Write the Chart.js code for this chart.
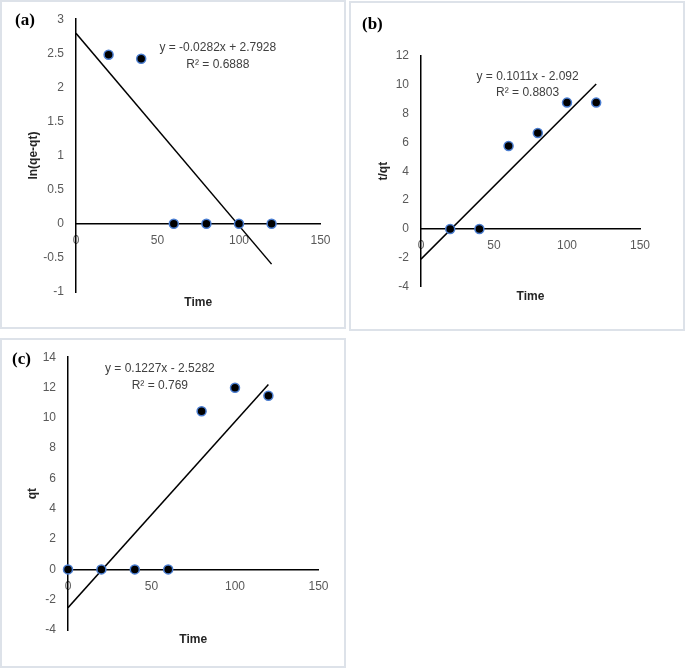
<!DOCTYPE html>
<html>
<head>
<meta charset="utf-8">
<script src="https://cdn.jsdelivr.net/npm/chart.js@4/dist/chart.umd.min.js"></script>
<style>
  body { margin: 0; background: #fff; }
  #wrap { position: relative; width: 685px; height: 669px; overflow: hidden; }
  .frame { position: absolute; box-sizing: border-box; border: 2px solid #dde2e9; }
  canvas { position: absolute; }
  .tag { position: absolute; font: bold 17px "Liberation Serif", "Times New Roman", serif; line-height: 17px; color: #000; }
</style>
</head>
<body>
<div id="wrap">
  <div class="frame" style="left:0;top:0;width:346px;height:329px"></div>
  <div class="frame" style="left:349px;top:1px;width:336px;height:330px"></div>
  <div class="frame" style="left:0;top:338px;width:346px;height:330px"></div>
  <canvas id="chartA" width="346" height="329" style="left:0;top:0"></canvas>
  <canvas id="chartB" width="336" height="330" style="left:349px;top:0"></canvas>
  <canvas id="chartC" width="345" height="331" style="left:0;top:338px"></canvas>
  <div class="tag" style="left:15px;top:11px">(a)</div>
  <div class="tag" style="left:362px;top:15px">(b)</div>
  <div class="tag" style="left:12px;top:350px">(c)</div>
</div>
<script>
// (a) pseudo-first-order
const timeA = [20, 40, 60, 80, 100, 120];
const lnA = [2.48, 2.42, 0, 0, 0, 0];
// (b) pseudo-second-order
const timeB = [20, 40, 60, 80, 100, 120];
const tqB = [0, 0, 5.75, 6.65, 8.75, 8.75];
// (c) qt vs time
const timeC = [0, 20, 40, 60, 80, 100, 120];
const qtC = [0, 0, 0, 0, 10.43, 11.98, 11.46];

// trend line end points (x = 0 and x = 120)
const trendX = [0, 120];
const trendA = [2.7928, -0.5912];
const trendB = [-2.092, 10.04];
const trendC = [-2.5282, 12.196];

const eqA = ['y = -0.0282x + 2.7928', 'R\u00B2 = 0.6888'];
const eqB = ['y = 0.1011x - 2.092', 'R\u00B2 = 0.8803'];
const eqC = ['y = 0.1227x - 2.5282', 'R\u00B2 = 0.769'];

const tickColor = '#595959';
const baseFont = '"Liberation Sans", Arial, sans-serif';

function toPoints(xs, ys) {
    return xs.map((x, i) => ({ x: x, y: ys[i] }));
}

function makeChart(id, cfg) {
    const eqPlugin = {
        id: 'eqText',
        afterDatasetsDraw(chart) {
            const ctx = chart.ctx;
            const x = chart.scales.x.getPixelForValue(cfg.eqPos[0]);
            ctx.save();
            ctx.font = '12px ' + baseFont;
            ctx.fillStyle = '#404040';
            ctx.textAlign = 'center';
            ctx.textBaseline = 'middle';
            cfg.eq.forEach((line, i) => {
                ctx.fillText(line, x, chart.scales.y.getPixelForValue(cfg.eqPos[1][i]));
            });
            ctx.restore();
        }
    };

    return new Chart(document.getElementById(id), {
        type: 'scatter',
        data: {
            datasets: [{
                data: toPoints(cfg.xs, cfg.ys),
                backgroundColor: '#000',
                borderColor: '#4a7dd0',
                borderWidth: 1.5,
                pointRadius: 4.5,
                clip: false,
                order: 0
            }, {
                data: toPoints(trendX, cfg.trend),
                showLine: true,
                borderColor: '#000',
                borderWidth: 1.5,
                pointRadius: 0,
                order: 1
            }]
        },
        options: {
            responsive: false,
            animation: false,
            devicePixelRatio: 1,
            layout: { padding: cfg.pad },
            plugins: {
                legend: { display: false },
                tooltip: { enabled: false },
                title: {
                    display: true,
                    text: 'Time',
                    position: 'bottom',
                    fullSize: false,
                    color: '#262626',
                    font: { family: baseFont, size: 12, weight: 'bold' },
                    padding: cfg.titlePad
                }
            },
            scales: {
                x: {
                    type: 'linear',
                    position: { y: 0 },
                    min: 0,
                    max: 150,
                    grid: { display: false, drawTicks: false },
                    border: { display: true, color: '#000', width: 1.5 },
                    ticks: {
                        stepSize: 50,
                        color: tickColor,
                        padding: 10,
                        font: { family: baseFont, size: 12 }
                    },
                    afterFit(scale) { scale.height = 0; }
                },
                y: {
                    type: 'linear',
                    position: 'left',
                    min: cfg.yMin,
                    max: cfg.yMax,
                    grid: { display: false, drawTicks: false },
                    border: { display: true, color: '#000', width: 1.5 },
                    ticks: {
                        stepSize: cfg.yStep,
                        color: tickColor,
                        padding: 12,
                        font: { family: baseFont, size: 12 },
                        callback: v => String(Math.round(v * 10) / 10)
                    },
                    title: {
                        display: true,
                        text: cfg.yTitle,
                        color: '#262626',
                        padding: 0,
                        font: { family: baseFont, size: 12, weight: 'bold' }
                    },
                    afterFit(scale) { scale.width = cfg.yWidth; }
                }
            }
        },
        plugins: [eqPlugin]
    });
}

makeChart('chartA', {
    xs: timeA, ys: lnA, trend: trendA,
    yMin: -1, yMax: 3, yStep: 0.5, yTitle: 'ln(qe-qt)',
    eq: eqA, eqPos: [87, [2.575, 2.34]],
    pad: { left: 26, right: 25.5, top: 17, bottom: 0 },
    yWidth: 50,
    titlePad: { top: 3.8, bottom: 18.8 }
});

makeChart('chartB', {
    xs: timeB, ys: tqB, trend: trendB,
    yMin: -4, yMax: 12, yStep: 2, yTitle: 't/qt',
    eq: eqB, eqPos: [73, [10.57, 9.42]],
    pad: { left: 27, right: 45, top: 55.7, bottom: 0 },
    yWidth: 45,
    titlePad: { top: 3.1, bottom: 25.8 }
});

makeChart('chartC', {
    xs: timeC, ys: qtC, trend: trendC,
    yMin: -4, yMax: 14, yStep: 2, yTitle: 'qt',
    eq: eqC, eqPos: [55, [13.25, 12.14]],
    pad: { left: 25.8, right: 26.5, top: 17.7, bottom: 0 },
    yWidth: 42.2,
    titlePad: { top: 2.8, bottom: 21.8 }
});
</script>
</body>
</html>
